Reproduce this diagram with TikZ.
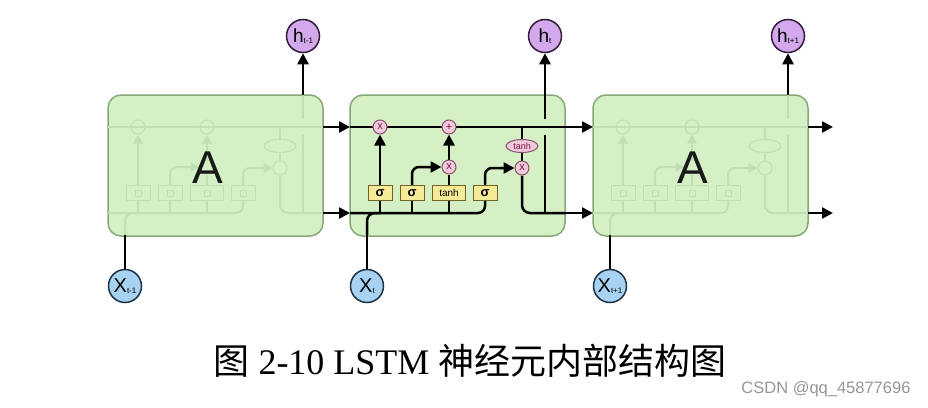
\documentclass[tikz,border=0pt]{standalone}
\usepackage{fontspec}
\setmainfont{Liberation Serif}
\newfontfamily\cjk{Noto Sans CJK SC}
\newfontfamily\sansf{Liberation Sans}
\usetikzlibrary{arrows.meta,shapes.geometric}
\pgfdeclarelayer{boxl}
\pgfdeclarelayer{bgl}
\pgfsetlayers{boxl,bgl,main}
\definecolor{boxfill}{RGB}{213,240,196}
\definecolor{boxline}{RGB}{135,168,118}
\definecolor{ghostc}{RGB}{194,222,178}
\definecolor{pinkfill}{RGB}{240,200,220}
\definecolor{pinkline}{RGB}{140,80,110}
\definecolor{pinktext}{RGB}{125,25,65}
\definecolor{yfill}{RGB}{246,234,150}
\definecolor{yline}{RGB}{110,100,40}
\definecolor{hfill}{RGB}{212,168,236}
\definecolor{hline}{RGB}{50,30,60}
\definecolor{xfill}{RGB}{168,210,242}
\definecolor{xline}{RGB}{30,50,70}
\definecolor{wmgray}{RGB}{150,150,150}
\newcommand\celltxt[1]{#1}
\tikzset{
  ln/.style={line width=2.5pt, black},
  arr/.style={ln, -{Triangle[length=11pt,width=11pt]}},
  mult/.style={circle, draw=pinkline, fill=pinkfill, line width=1pt, minimum size=14pt, inner sep=0pt, text=pinktext, font=\sansf\fontsize{11}{11}\selectfont},
  gate/.style={rectangle, draw=yline, fill=yfill, line width=1pt, minimum width=24pt, minimum height=15pt, inner sep=0pt, font=\sansf\bfseries\fontsize{13}{13}\selectfont},
  tanhel/.style={ellipse, draw=pinkline, fill=pinkfill, line width=1pt, minimum width=32pt, minimum height=13pt, inner sep=0pt, text=pinktext, font=\sansf\fontsize{9}{9}\selectfont},
  ghost/.style={
    ln/.style={line width=2pt, ghostc},
    arr/.style={ln, -{Triangle[length=9pt,width=9pt]}},
    mult/.style={circle, draw=ghostc, line width=1pt, minimum size=14pt, inner sep=0pt},
    gate/.style={rectangle, draw=ghostc, line width=1pt, minimum width=24pt, minimum height=15pt, inner sep=0pt,
      path picture={\draw[ghostc, line width=0.8pt] ([shift={(-3pt,-3pt)}]path picture bounding box.center) rectangle ([shift={(3pt,3pt)}]path picture bounding box.center);}},
    tanhel/.style={ellipse, draw=ghostc, line width=1pt, minimum width=32pt, minimum height=13pt, inner sep=0pt}},
  cellbox/.style={draw=boxline, fill=boxfill, line width=1.5pt, rounded corners=13pt, minimum width=215pt, minimum height=141pt, inner sep=0pt},
  hcirc/.style={circle, draw=hline, fill=hfill, line width=1.5pt, minimum size=33pt, inner sep=0pt, font=\sansf},
  xcirc/.style={circle, draw=xline, fill=xfill, line width=1.5pt, minimum size=33pt, inner sep=0pt, font=\sansf},
  bigA/.style={font=\sansf\fontsize{46}{46}\selectfont, text=black!90},
}
\newcommand\lstmcore[1]{%
  \node[mult] (#1f) at (30,127) {\celltxt{x}};
  \node[mult] (#1a) at (99,127) {\celltxt{+}};
  \node[mult] (#1i) at (99,167) {\celltxt{x}};
  \node[mult] (#1o) at (172,168) {\celltxt{x}};
  \node[tanhel] (#1th) at (172,146) {\celltxt{tanh}};
  \node[gate] (#1g1) at (30,193) {\celltxt{σ}};
  \node[gate] (#1g2) at (62,193) {\celltxt{σ}};
  \node[gate,minimum width=33pt,font=\sansf\fontsize{10}{10}\selectfont] (#1g3) at (99,193) {\celltxt{tanh}};
  \node[gate] (#1g4) at (135,193) {\celltxt{σ}};
  \coordinate (#1cin) at (0,127);
  \coordinate (#1cout) at (215,127);
  \coordinate (#1hin) at (0,213);
  \coordinate (#1hout) at (215,213);
  \coordinate (#1xb) at (17,235);
  \coordinate (#1hv) at (195,213);
  \coordinate (#1gl) at (195,135);
  \coordinate (#1gh) at (195,119);
  \coordinate (#1ht) at (195,95);
  \begin{pgfonlayer}{boxl}
    \node[cellbox] (#1box) at (107.5,165.5) {};
  \end{pgfonlayer}
  \begin{pgfonlayer}{bgl}
    \draw[ln] (#1cin) -- (#1cout);
    \draw[ln,rounded corners=7pt] (#1hin) -| (#1g4.south);
    \draw[ln,rounded corners=8pt] (#1xb) |- (#1g1.south |- #1hin);
    \draw[ln] (#1g1.south) -- (#1g1.south |- #1hin);
    \draw[ln] (#1g2.south) -- (#1g2.south |- #1hin);
    \draw[ln] (#1g3.south) -- (#1g3.south |- #1hin);
    \draw[arr] (#1g1.north) -- (#1f.south);
    \draw[arr,rounded corners=7pt] (#1g2.north) |- (#1i.west);
    \draw[ln] (#1g3.north) -- (#1i.south);
    \draw[arr] (#1i.north) -- (#1a.south);
    \draw[arr,rounded corners=7pt] (#1g4.north) |- (#1o.west);
    \draw[ln] (#1th.north |- #1cin) -- (#1th.north);
    \draw[ln] (#1th.south) -- (#1o.north);
    \draw[ln,rounded corners=8pt] (#1o.south) |- (#1hout);
    \draw[ln] (#1hv) -- (#1gl);
    \draw[ln] (#1gh) -- (#1ht);
  \end{pgfonlayer}
}
\begin{document}
\begin{tikzpicture}[x=1pt,y=-1pt]
\useasboundingbox (0,0) rectangle (928,407);
\begin{pgfonlayer}{boxl}
  \fill[white] (0,0) rectangle (928,407);
\end{pgfonlayer}
% left ghost cell
\begin{scope}[shift={(108,0)},ghost]
  \renewcommand\celltxt[1]{}
  \lstmcore{L}
  \node[bigA] (LA) at (100,168) {A};
\end{scope}
% middle detailed cell
\begin{scope}[shift={(350,0)}]
  \lstmcore{M}
\end{scope}
% right ghost cell
\begin{scope}[shift={(593,0)},ghost]
  \renewcommand\celltxt[1]{}
  \lstmcore{R}
  \node[bigA] (RA) at (100,168) {A};
\end{scope}
% outputs and inputs
\node[hcirc] (h1) at (303,36) {{\fontsize{19}{19}\selectfont h}\raisebox{-1pt}{\fontsize{8}{8}\selectfont t-1}};
\node[hcirc] (h2) at (545,36) {{\fontsize{19}{19}\selectfont h}\raisebox{-1pt}{\fontsize{8}{8}\selectfont t}};
\node[hcirc] (h3) at (788,36) {{\fontsize{19}{19}\selectfont h}\raisebox{-1pt}{\fontsize{8}{8}\selectfont t+1}};
\node[xcirc] (x1) at (125,286) {{\fontsize{20}{20}\selectfont X}\raisebox{-1pt}{\fontsize{8}{8}\selectfont t-1}};
\node[xcirc] (x2) at (367,286) {{\fontsize{20}{20}\selectfont X}\raisebox{-1pt}{\fontsize{8}{8}\selectfont t}};
\node[xcirc] (x3) at (610,286) {{\fontsize{20}{20}\selectfont X}\raisebox{-1pt}{\fontsize{8}{8}\selectfont t+1}};
\coordinate (endc) at (833,127);
\coordinate (endh) at (833,213);
\begin{pgfonlayer}{bgl}
  \draw[arr] (Lcout) -- (Mcin);
  \draw[arr] (Lhout) -- (Mhin);
  \draw[arr] (Mcout) -- (Rcin);
  \draw[arr] (Mhout) -- (Rhin);
  \draw[arr] (Rcout) -- (endc);
  \draw[arr] (Rhout) -- (endh);
  \draw[arr] (Lht) -- (h1);
  \draw[arr] (Mgh) -- (h2);
  \draw[arr] (Rht) -- (h3);
  \draw[ln] (x1) -- (Lxb);
  \draw[ln] (x2) -- (Mxb);
  \draw[ln] (x3) -- (Rxb);
\end{pgfonlayer}
% caption
\node (cap) at (470,361) {\fontsize{36}{36}\selectfont{\cjk 图} 2-10 LSTM {\cjk 神经元内部结构图}};
\node[anchor=east, text=wmgray, font=\sansf\fontsize{16.5}{16.5}\selectfont] (wm) at (914,389) {CSDN @qq\_45877696};
\end{tikzpicture}
\end{document}
